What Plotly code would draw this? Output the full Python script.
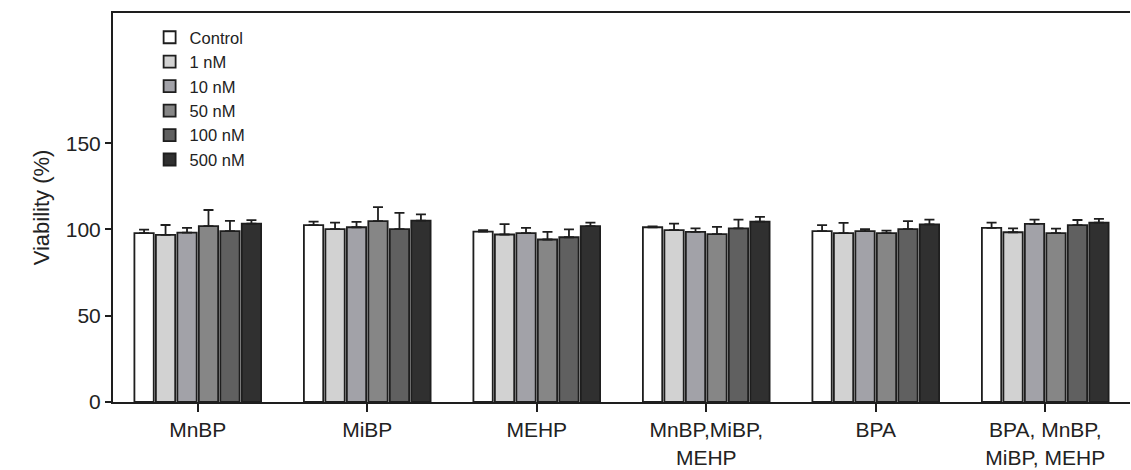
import plotly.graph_objects as go

categories = ["MnBP", "MiBP", "MEHP", "MnBP,MiBP,<br>MEHP", "BPA", "BPA, MnBP,<br>MiBP, MEHP"]
series_names = ["Control", "1 nM", "10 nM", "50 nM", "100 nM", "500 nM"]

control = [97.9, 102.5, 98.8, 101.3, 99.0, 100.9]
nm1 = [96.9, 100.2, 97.1, 99.6, 97.9, 98.4]
nm10 = [98.2, 101.3, 97.9, 98.6, 99.0, 103.2]
nm50 = [101.9, 104.8, 94.2, 97.3, 97.9, 97.9]
nm100 = [99.0, 100.2, 95.5, 100.7, 100.2, 102.5]
nm500 = [103.4, 105.1, 101.9, 104.6, 103.0, 104.0]

err_control = [2.0, 2.1, 0.8, 0.5, 3.5, 3.1]
err_1 = [5.7, 3.8, 6.0, 3.8, 5.9, 2.3]
err_10 = [2.7, 3.1, 3.0, 2.1, 1.2, 2.5]
err_50 = [9.4, 8.2, 4.4, 4.2, 1.5, 2.6]
err_100 = [6.0, 9.4, 4.6, 5.0, 4.6, 3.0]
err_500 = [2.0, 3.7, 2.1, 2.7, 2.7, 2.1]

values = [control, nm1, nm10, nm50, nm100, nm500]
errors = [err_control, err_1, err_10, err_50, err_100, err_500]
colors = ["#ffffff", "#d2d2d2", "#a2a2a8", "#868686", "#606060", "#303030"]

fig = go.Figure()
for name, v, e, c in zip(series_names, values, errors, colors):
    fig.add_trace(go.Bar(
        x=categories, y=v, name=name,
        marker=dict(color=c, line=dict(color="#1e1e1e", width=1.8)),
        error_y=dict(type="data", array=e, arrayminus=[0] * len(e), symmetric=False,
                     color="#1e1e1e", thickness=1.8, width=5),
    ))

fig.update_layout(
    width=1131, height=470,
    margin=dict(l=113, r=1, t=13, b=66),
    paper_bgcolor="white", plot_bgcolor="white",
    barmode="group", bargap=0.24, bargroupgap=0.1,
    font=dict(family="Liberation Sans, Arial, sans-serif", color="#222222", size=20),
    showlegend=True,
    legend=dict(x=0.036, y=0.982, xanchor="left", yanchor="top",
                bgcolor="rgba(0,0,0,0)", font=dict(size=16.5), tracegroupgap=0,
                itemwidth=30),
    xaxis=dict(showline=True, linecolor="#1e1e1e", linewidth=2, mirror=True,
               ticks="outside", ticklen=8, tickwidth=1.5, tickcolor="#1e1e1e",
               showgrid=False, zeroline=False, tickfont=dict(size=21)),
    yaxis=dict(range=[0, 225.5], tickvals=[0, 50, 100, 150],
               showline=True, linecolor="#1e1e1e", linewidth=2,
               ticks="outside", ticklen=6, tickwidth=1.5, tickcolor="#1e1e1e",
               showgrid=False, zeroline=False, tickfont=dict(size=21),
               title=dict(text="Viability (%)", font=dict(size=22), standoff=10)),
)

fig.write_html("out.html")
